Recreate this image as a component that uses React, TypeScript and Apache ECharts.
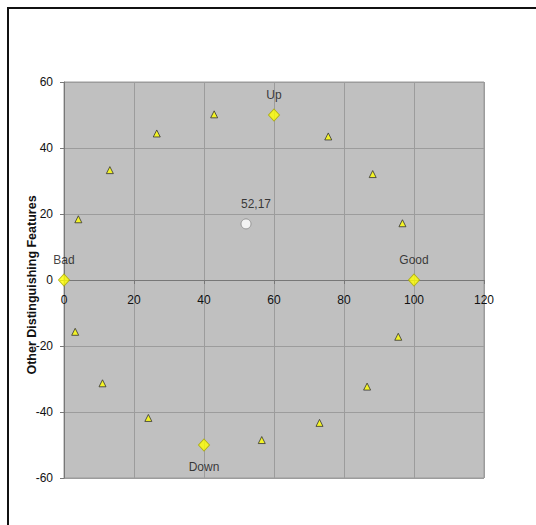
import React, { useEffect, useRef } from "react";
import * as echarts from "echarts";

// Axis ticks
const xTicks = [0, 20, 40, 60, 80, 100, 120];
const yTicks = [-60, -40, -20, 0, 20, 40, 60];

// Anchor points (diamonds) with their names
const anchorNames = ["Bad", "Up", "Good", "Down"];
const anchorX = [0, 60, 100, 40];
const anchorY = [0, 50, 0, -50];

// Feature points (triangles), upper and lower arcs
const upperX = [4.1, 13.1, 26.5, 42.9, 75.5, 88.2, 96.7];
const upperY = [18.4, 33.3, 44.4, 50.2, 43.5, 32.1, 17.2];
const lowerX = [3.2, 11.0, 24.1, 56.5, 73.0, 86.6, 95.5];
const lowerY = [-15.7, -31.3, -41.8, -48.5, -43.3, -32.3, -17.2];

// Current position (circle)
const currentX = [52];
const currentY = [17];

const yAxisTitle = "Other Distinguishing Features";

const FONT = "Arial, 'Liberation Sans', sans-serif";

// Plot area
const GRID = { left: 64, top: 82, width: 420, height: 396 };

export default function App() {
  const ref = useRef<HTMLDivElement>(null);

  useEffect(() => {
    if (!ref.current) return;
    const chart = echarts.init(ref.current, null, { renderer: "svg" });

    const triangles = [
      ...upperX.map((x, i) => [x, upperY[i]]),
      ...lowerX.map((x, i) => [x, lowerY[i]]),
    ];
    const anchors = anchorNames.map((name, i) => ({
      name,
      value: [anchorX[i], anchorY[i]],
      label: anchorY[i] < 0 ? { position: "bottom", distance: 9 } : { position: "top" },
    }));
    const current = currentX.map((x, i) => [x, currentY[i]]);

    const yMin = yTicks[0];
    const yMax = yTicks[yTicks.length - 1];
    // shift the x axis from the bottom edge up to the y = 0 line
    const zeroOffset = -GRID.height * ((0 - yMin) / (yMax - yMin));

    chart.setOption({
      animation: false,
      backgroundColor: "#ffffff",
      grid: {
        ...GRID,
        show: true,
        backgroundColor: "#C0C0C0",
        borderColor: "#9a9a9a",
        borderWidth: 1,
      },
      xAxis: {
        type: "value",
        position: "bottom",
        offset: zeroOffset,
        min: xTicks[0],
        max: xTicks[xTicks.length - 1],
        interval: 20,
        axisLine: { show: true, onZero: false, lineStyle: { color: "#777", width: 1 } },
        axisTick: { show: true, length: 4, lineStyle: { color: "#777" } },
        axisLabel: { color: "#111", fontSize: 12, fontFamily: FONT, margin: 14 },
        splitLine: { show: true, lineStyle: { color: "#9c9c9c", width: 1 } },
      },
      yAxis: {
        type: "value",
        min: yMin,
        max: yMax,
        interval: 20,
        axisLine: { show: true, onZero: false, lineStyle: { color: "#777", width: 1 } },
        axisTick: { show: true, length: 4, lineStyle: { color: "#777" } },
        axisLabel: { color: "#111", fontSize: 12, fontFamily: FONT, margin: 11 },
        splitLine: { show: true, lineStyle: { color: "#9c9c9c", width: 1 } },
      },
      graphic: [
        {
          type: "line",
          shape: { x1: 7, y1: 8, x2: 536, y2: 8 },
          style: { stroke: "#111", lineWidth: 2 },
          silent: true,
        },
        {
          type: "line",
          shape: { x1: 8, y1: 7, x2: 8, y2: 525 },
          style: { stroke: "#111", lineWidth: 2 },
          silent: true,
        },
        {
          type: "text",
          x: 32,
          y: 285,
          rotation: Math.PI / 2,
          style: {
            text: yAxisTitle,
            align: "center",
            verticalAlign: "middle",
            fill: "#111",
            font: `bold 12.5px ${FONT}`,
          },
          silent: true,
        },
      ],
      series: [
        {
          name: "Features",
          type: "scatter",
          symbol: "triangle",
          symbolSize: [7, 7],
          itemStyle: { color: "#FFFF00", borderColor: "#333", borderWidth: 1 },
          data: triangles,
          z: 3,
        },
        {
          name: "Anchors",
          type: "scatter",
          symbol: "diamond",
          symbolSize: [11, 12],
          itemStyle: { color: "#FFFF00", borderColor: "#a8a800", borderWidth: 1 },
          label: {
            show: true,
            formatter: "{b}",
            distance: 7,
            color: "#111",
            fontSize: 12,
            fontFamily: FONT,
          },
          data: anchors,
          z: 4,
        },
        {
          name: "Current",
          type: "scatter",
          symbol: "circle",
          symbolSize: 10,
          itemStyle: { color: "#ffffff", borderColor: "#888", borderWidth: 1 },
          label: {
            show: true,
            position: "top",
            distance: 8,
            offset: [10, 0],
            formatter: (p: any) => `${p.value[0]},${p.value[1]}`,
            color: "#111",
            fontSize: 12,
            fontFamily: FONT,
          },
          data: current,
          z: 4,
        },
      ],
    });

    return () => chart.dispose();
  }, []);

  return (
    <div
      ref={ref}
      style={{ position: "absolute", left: 0, top: 0, width: 536, height: 525 }}
    />
  );
}
